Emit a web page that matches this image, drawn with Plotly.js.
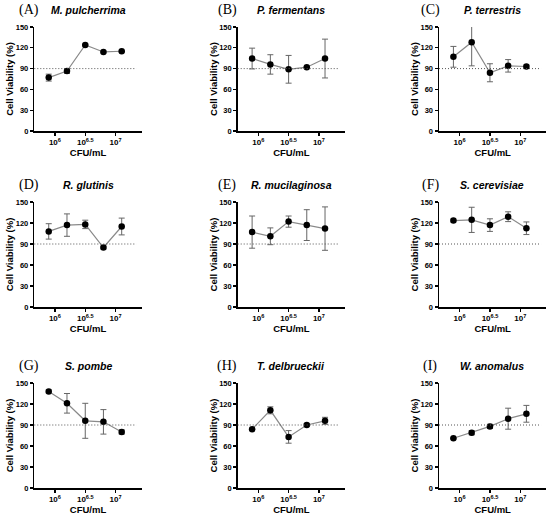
<!DOCTYPE html>
<html>
<head>
<meta charset="utf-8">
<script src="https://cdn.plot.ly/plotly-3.0.1.min.js"></script>
<style>html,body{margin:0;padding:0;background:#fff;}#chart{width:550px;height:518px;}</style>
</head>
<body>
<div id="chart"></div>
<script>
// ---- data ----
const concentrations = [7.9e5, 1.58e6, 3.16e6, 6.3e6, 1.26e7]; // CFU/mL
const panelLabels = ['(A)', '(B)', '(C)', '(D)', '(E)', '(F)', '(G)', '(H)', '(I)'];
const speciesNames = ['M. pulcherrima', 'P. fermentans', 'P. terrestris', 'R. glutinis', 'R. mucilaginosa', 'S. cerevisiae', 'S. pombe', 'T. delbrueckii', 'W. anomalus'];

const viabilityA = [77, 86.5, 124, 114, 115];
const errorA     = [5, 3.5, 1, 1, 1];
const viabilityB = [104.5, 96, 89, 92, 104.5];
const errorB     = [15, 14, 20, 1, 28];
const viabilityC = [107, 128, 84, 94, 93];
const errorC     = [15, 34, 13, 9, 2];
const viabilityD = [108, 117, 118, 85, 115];
const errorD     = [11, 16, 6, 2, 12];
const viabilityE = [107, 101, 122, 117, 112];
const errorE     = [23, 12, 8, 22, 31];
const viabilityF = [123.5, 124.5, 117, 129, 112.5];
const errorF     = [2, 18, 9, 7, 9];
const viabilityG = [138, 121, 96, 94.5, 80];
const errorG     = [2, 14, 25, 17.5, 3];
const viabilityH = [84, 111, 73, 90, 96];
const errorH     = [1, 5, 9, 2, 5];
const viabilityI = [71, 79, 88, 99, 106];
const errorI     = [1, 3, 3, 15, 12];

const allViability = [viabilityA, viabilityB, viabilityC, viabilityD, viabilityE, viabilityF, viabilityG, viabilityH, viabilityI];
const allErrors = [errorA, errorB, errorC, errorD, errorE, errorF, errorG, errorH, errorI];

const threshold = 90;
const yTickVals = [0, 30, 60, 90, 120, 150];
const yTickText = ['0', '30', '60', '90', '120', '150'];
const xTickVals = [1e6, 3.16228e6, 1e7];
const xTickText = ['10<sup>6</sup>', '10<sup>6.5</sup>', '10<sup>7</sup>'];

// ---- layout geometry ----
const W = 550, H = 518;
const colDomains = [[34.3/W, 141.7/W], [237.7/W, 345/W], [439/W, 546.4/W]];
const rowDomains = [[1-131/H, 1-27/H], [1-307/H, 1-202/H], [1-488/H, 1-383/H]];
const labelX = [28.5, 227, 430];
const speciesX = [88, 291, 492];
const titleY = [10, 185, 366];
const FONT = 'Liberation Sans, Arial, sans-serif';

const traces = [];
const layout = {
  width: W, height: H,
  margin: {l: 0, r: 0, t: 0, b: 0},
  paper_bgcolor: '#fff', plot_bgcolor: '#fff',
  showlegend: false,
  font: {family: FONT, color: '#000', size: 9},
  annotations: [], shapes: []
};

for (let i = 0; i < 9; i++) {
  const r = Math.floor(i / 3), c = i % 3;
  const n = i + 1;
  const xa = 'x' + (n === 1 ? '' : n), ya = 'y' + (n === 1 ? '' : n);
  traces.push({
    type: 'scatter', mode: 'lines+markers',
    x: concentrations, y: allViability[i],
    xaxis: xa, yaxis: ya,
    line: {color: '#8a8a8a', width: 1.2},
    marker: {color: '#000', size: 6.5},
    error_y: {type: 'data', array: allErrors[i], visible: true, color: '#666', thickness: 1, width: 3},
    cliponaxis: false
  });
  layout['xaxis' + (n === 1 ? '' : n)] = {
    type: 'log', range: [5.66, 7.43], domain: colDomains[c], anchor: ya,
    tickvals: xTickVals, ticktext: xTickText,
    showgrid: false, zeroline: false, showline: true, linecolor: '#000', linewidth: 1.5,
    ticks: 'outside', ticklen: 3, tickwidth: 1.2, tickcolor: '#000',
    tickfont: {size: 8, family: FONT, color: '#000', weight: 'bold'},
    title: {text: 'CFU/mL', font: {size: 9.5, family: FONT, color: '#000', weight: 'bold'}, standoff: 2}
  };
  layout['yaxis' + (n === 1 ? '' : n)] = {
    range: [0, 150], domain: rowDomains[r], anchor: xa,
    tickvals: yTickVals, ticktext: yTickText,
    showgrid: false, zeroline: false, showline: true, linecolor: '#000', linewidth: 1.5,
    ticks: 'outside', ticklen: 3, tickwidth: 1.2, tickcolor: '#000',
    tickfont: {size: 7.5, family: FONT, color: '#000', weight: 'bold'},
    title: {text: 'Cell Viability (%)', font: {size: 9.5, family: FONT, color: '#000', weight: 'bold'}, standoff: 0}
  };
  layout.shapes.push({
    type: 'line', xref: xa + ' domain', yref: ya,
    x0: 0, x1: 0.95, y0: threshold, y1: threshold,
    line: {color: '#555', width: 1, dash: '1px,2px'}
  });
  layout.annotations.push({
    text: panelLabels[i], xref: 'paper', yref: 'paper',
    x: labelX[c] / W, y: 1 - titleY[r] / H, xanchor: 'center', yanchor: 'middle',
    showarrow: false, font: {family: 'Liberation Serif, Times New Roman, serif', size: 14, color: '#000'}
  });
  layout.annotations.push({
    text: '<b><i>' + speciesNames[i] + '</i></b>', xref: 'paper', yref: 'paper',
    x: speciesX[c] / W, y: 1 - titleY[r] / H, xanchor: 'center', yanchor: 'middle',
    showarrow: false, font: {family: FONT, size: 10.5, color: '#000'}
  });
}

Plotly.newPlot('chart', traces, layout, {staticPlot: true, displayModeBar: false});
</script>
</body>
</html>
